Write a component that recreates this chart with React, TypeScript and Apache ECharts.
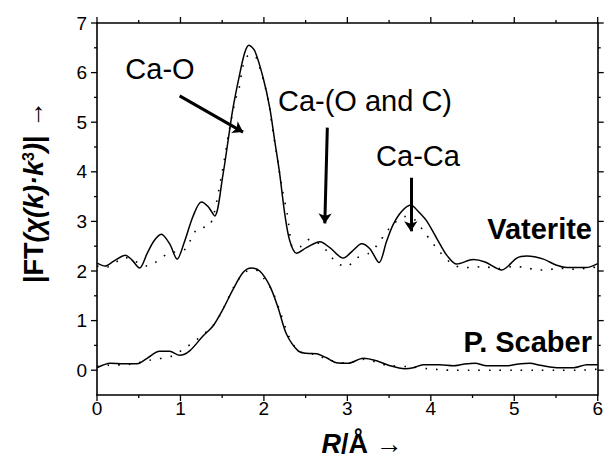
import React, { useEffect, useRef } from "react";
import * as echarts from "echarts";

// ---- data ----
const vatR = [0, 0.1, 0.2, 0.34, 0.42, 0.51, 0.6, 0.68, 0.77, 0.87, 0.96, 1.05, 1.15, 1.25, 1.33, 1.41, 1.51, 1.57, 1.63, 1.71, 1.77, 1.82, 1.89, 1.99, 2.07, 2.13, 2.19, 2.25, 2.31, 2.39, 2.51, 2.67, 2.79, 2.95, 3.06, 3.17, 3.27, 3.38, 3.47, 3.55, 3.65, 3.76, 3.85, 3.95, 4.11, 4.2, 4.31, 4.51, 4.65, 4.85, 5.03, 5.15, 5.35, 5.5, 5.63, 5.86, 6.0];
const vatExp = [2.16, 2.1, 2.2, 2.32, 2.22, 2.06, 2.35, 2.6, 2.74, 2.55, 2.24, 2.6, 3.1, 3.39, 3.3, 3.11, 3.95, 4.62, 5.29, 5.97, 6.4, 6.55, 6.44, 5.9, 5.29, 4.62, 3.95, 3.15, 2.61, 2.36, 2.47, 2.59, 2.47, 2.26, 2.4, 2.55, 2.45, 2.17, 2.6, 2.94, 3.2, 3.33, 3.2, 3.01, 2.54, 2.3, 2.14, 2.23, 2.18, 2.02, 2.26, 2.3, 2.24, 2.12, 2.07, 2.07, 2.15];

const vatFitR = [0, 0.1, 0.34, 0.6, 0.84, 1.07, 1.13, 1.21, 1.35, 1.5, 1.58, 1.66, 1.7, 1.75, 1.81, 1.88, 1.95, 2.05, 2.11, 2.15, 2.19, 2.22, 2.28, 2.3, 2.35, 2.45, 2.55, 2.7, 2.87, 2.99, 3.11, 3.25, 3.37, 3.46, 3.56, 3.7, 3.81, 3.91, 4.01, 4.11, 4.25, 4.38, 4.5, 4.62, 4.8, 5.0, 5.14, 5.27, 5.39, 5.51, 5.63, 5.75, 5.87, 6.0];
const vatFit = [2.1, 2.07, 2.27, 2.1, 2.34, 2.45, 2.66, 2.86, 2.91, 4.0, 4.8, 5.46, 5.66, 6.13, 6.34, 6.35, 6.1, 5.46, 4.79, 4.39, 3.95, 3.65, 3.15, 2.9, 2.47, 2.5, 2.64, 2.5, 2.17, 2.09, 2.26, 2.35, 2.55, 2.77, 2.96, 3.1, 3.03, 2.81, 2.59, 2.38, 2.15, 2.07, 2.07, 2.09, 2.05, 2.09, 2.07, 2.02, 2.02, 2.05, 2.05, 2.03, 2.06, 2.08];

const scaR = [0, 0.16, 0.31, 0.48, 0.6, 0.75, 0.87, 0.99, 1.11, 1.27, 1.39, 1.51, 1.63, 1.75, 1.85, 1.95, 2.07, 2.17, 2.27, 2.41, 2.51, 2.63, 2.75, 2.87, 3.01, 3.19, 3.35, 3.51, 3.69, 3.79, 3.91, 4.11, 4.27, 4.39, 4.53, 4.67, 4.91, 5.03, 5.19, 5.31, 5.51, 5.71, 5.87, 6.0];
const scaExp = [0.05, 0.14, 0.13, 0.13, 0.24, 0.38, 0.38, 0.3, 0.39, 0.69, 0.89, 1.23, 1.63, 1.97, 2.06, 2.0, 1.7, 1.26, 0.73, 0.39, 0.34, 0.33, 0.25, 0.15, 0.14, 0.24, 0.19, 0.09, 0.03, 0.05, 0.11, 0.11, 0.09, 0.12, 0.14, 0.09, 0.09, 0.12, 0.14, 0.1, 0.05, 0.05, 0.11, 0.11];

const scaFitR = [0, 0.13, 0.4, 0.63, 0.91, 1.03, 1.2, 1.39, 1.48, 1.67, 1.8, 1.9, 2.0, 2.1, 2.2, 2.3, 2.42, 2.6, 2.8, 3.0, 3.2, 3.33, 3.47, 3.73, 3.97, 4.11, 4.23, 4.47, 4.74, 5.0, 5.25, 5.5, 5.77, 6.0];
const scaFit = [0.08, 0.1, 0.12, 0.2, 0.29, 0.42, 0.62, 0.9, 1.13, 1.77, 2.0, 2.02, 1.85, 1.6, 1.15, 0.68, 0.38, 0.32, 0.2, 0.14, 0.22, 0.17, 0.1, 0.07, 0.03, 0.01, 0, 0, 0, 0, 0, 0, 0, 0.02];

// tick values
const xMajor = [0, 1, 2, 3, 4, 5, 6];
const xMinor = [0.5, 1.5, 2.5, 3.5, 4.5, 5.5];
const yMajor = [0, 1, 2, 3, 4, 5, 6, 7];
const yMinor = [0.5, 1.5, 2.5, 3.5, 4.5, 5.5, 6.5];

// annotation arrows: [startR, startY, endR, endY]
const arrows = [
  [0.99, 5.53, 1.75, 4.8],
  [2.76, 4.89, 2.73, 2.96],
  [3.76, 3.88, 3.76, 2.8],
];

const R_MIN = 0;
const R_MAX = 6;
const Y_MIN = -0.5;
const Y_MAX = 7;

const FONT = "'Liberation Sans', Arial, Helvetica, sans-serif";

const pairs = (xs: number[], ys: number[]) => xs.map((x, i) => [x, ys[i]]);

export default function App() {
  const ref = useRef<HTMLDivElement>(null);
  useEffect(() => {
    if (!ref.current) return;
    const chart = echarts.init(ref.current, null, { renderer: "svg" });
    const mkLine = () => ({ show: true, onZero: false, lineStyle: { color: "#000", width: 1.6 } });
    const mkX = (pos: string, labels: boolean) => ({
      type: "value",
      min: R_MIN,
      max: R_MAX,
      interval: 1,
      position: pos,
      axisLine: mkLine(),
      splitLine: { show: false },
      axisTick: { show: false },
      minorTick: { show: false },
      axisLabel: labels
        ? { show: true, margin: 4, color: "#000", fontSize: 19, fontFamily: FONT }
        : { show: false },
    });
    const mkY = (pos: string, labels: boolean) => ({
      type: "value",
      min: Y_MIN,
      max: Y_MAX,
      interval: 0.5,
      position: pos,
      axisLine: mkLine(),
      splitLine: { show: false },
      axisTick: { show: false },
      axisLabel: labels
        ? {
            show: true,
            customValues: yMajor,
            margin: 10,
            color: "#000",
            fontSize: 19,
            fontFamily: FONT,
            formatter: (v: number) => (Number.isInteger(v) ? String(v) : ""),
          }
        : { show: false },
    });

    const lineSeries = (data: number[][], dotted: boolean, extra: any = {}) => ({
      type: "line",
      data,
      showSymbol: false,
      symbol: "none",
      smooth: 0.3,
      silent: true,
      lineStyle: dotted
        ? { color: "#000", width: 1.6, type: [1.6, 9] }
        : { color: "#000", width: 1.5 },
      z: dotted ? 2 : 3,
      ...extra,
    });

    const texts: any[] = [
      { type: "text", x: 160, y: 69, style: { text: "Ca-O", fill: "#000", font: `29px ${FONT}`, align: "center", verticalAlign: "middle" } },
      { type: "text", x: 365, y: 101, style: { text: "Ca-(O and C)", fill: "#000", font: `29px ${FONT}`, align: "center", verticalAlign: "middle" } },
      { type: "text", x: 418, y: 156, style: { text: "Ca-Ca", fill: "#000", font: `29px ${FONT}`, align: "center", verticalAlign: "middle" } },
      { type: "text", x: 592, y: 229, style: { text: "Vaterite", fill: "#000", font: `bold 29px ${FONT}`, align: "right", verticalAlign: "middle" } },
      { type: "text", x: 592, y: 342, style: { text: "P. Scaber", fill: "#000", font: `bold 29px ${FONT}`, align: "right", verticalAlign: "middle" } },
      {
        type: "text",
        x: 362,
        y: 444,
        style: {
          text: "{bi|R}{b|/Å →}",
          align: "center",
          verticalAlign: "middle",
          fill: "#000",
          rich: {
            bi: { fontSize: 27, fontWeight: "bold", fontStyle: "italic", fontFamily: FONT, fill: "#000" },
            b: { fontSize: 27, fontWeight: "bold", fontFamily: FONT, fill: "#000" },
          },
        },
      },
      {
        type: "text",
        x: 34,
        y: 192,
        rotation: Math.PI / 2,
        style: {
          text: "{b||FT}{bi|(χ(k)·k}{sup|3}{bi|)}{b|| →}",
          align: "center",
          verticalAlign: "middle",
          fill: "#000",
          rich: {
            b: { fontSize: 27, fontWeight: "bold", fontFamily: FONT, fill: "#000" },
            bi: { fontSize: 27, fontWeight: "bold", fontStyle: "italic", fontFamily: FONT, fill: "#000" },
            sup: { fontSize: 16, fontWeight: "bold", fontFamily: FONT, fill: "#000", verticalAlign: "top" },
          },
        },
      },
    ];

    chart.setOption({
      animation: false,
      grid: { left: 97, right: 8, top: 23, bottom: 65 },
      xAxis: [mkX("bottom", true), mkX("top", false)],
      yAxis: [mkY("left", true), mkY("right", false)],
      series: [
        lineSeries(pairs(vatFitR, vatFit), true),
        lineSeries(pairs(scaFitR, scaFit), true),
        lineSeries(pairs(scaR, scaExp), false),
        lineSeries(pairs(vatR, vatExp), false, {
          markLine: {
            silent: true,
            symbol: ["none", "arrow"],
            symbolSize: 10,
            label: { show: false },
            lineStyle: { color: "#000", width: 3, type: "solid" },
            itemStyle: { color: "#000" },
            emphasis: { disabled: true },
            data: arrows.map((a) => [{ coord: [a[0], a[1]] }, { coord: [a[2], a[3]] }]),
          },
        }),
      ],
      graphic: texts,
    });

    // outward frame ticks, placed through the chart's own scales, drawn as filled rects
    const W = 1.3;
    const ticks: any[] = [];
    const toPx = (v: number[]) => chart.convertToPixel({ gridIndex: 0 } as any, v) as number[];
    const addX = (v: number, len: number) => {
      const pb = toPx([v, Y_MIN]);
      const pt = toPx([v, Y_MAX]);
      ticks.push({ type: "rect", silent: true, z: 100, shape: { x: pb[0] - W / 2, y: pb[1], width: W, height: len }, style: { fill: "#000" } });
      ticks.push({ type: "rect", silent: true, z: 100, shape: { x: pt[0] - W / 2, y: pt[1] - len, width: W, height: len }, style: { fill: "#000" } });
    };
    const addY = (v: number, len: number) => {
      const pl = toPx([R_MIN, v]);
      const pr = toPx([R_MAX, v]);
      ticks.push({ type: "rect", silent: true, z: 100, shape: { x: pl[0] - len, y: pl[1] - W / 2, width: len, height: W }, style: { fill: "#000" } });
      ticks.push({ type: "rect", silent: true, z: 100, shape: { x: pr[0], y: pr[1] - W / 2, width: len, height: W }, style: { fill: "#000" } });
    };
    xMajor.forEach((v) => addX(v, 6));
    xMinor.forEach((v) => addX(v, 3));
    yMajor.forEach((v) => addY(v, 6));
    yMinor.forEach((v) => addY(v, 3));
    chart.setOption({ graphic: [...texts, ...ticks] });

    return () => chart.dispose();
  }, []);
  return <div ref={ref} style={{ width: 606, height: 460, position: "absolute", left: 0, top: 0 }} />;
}
